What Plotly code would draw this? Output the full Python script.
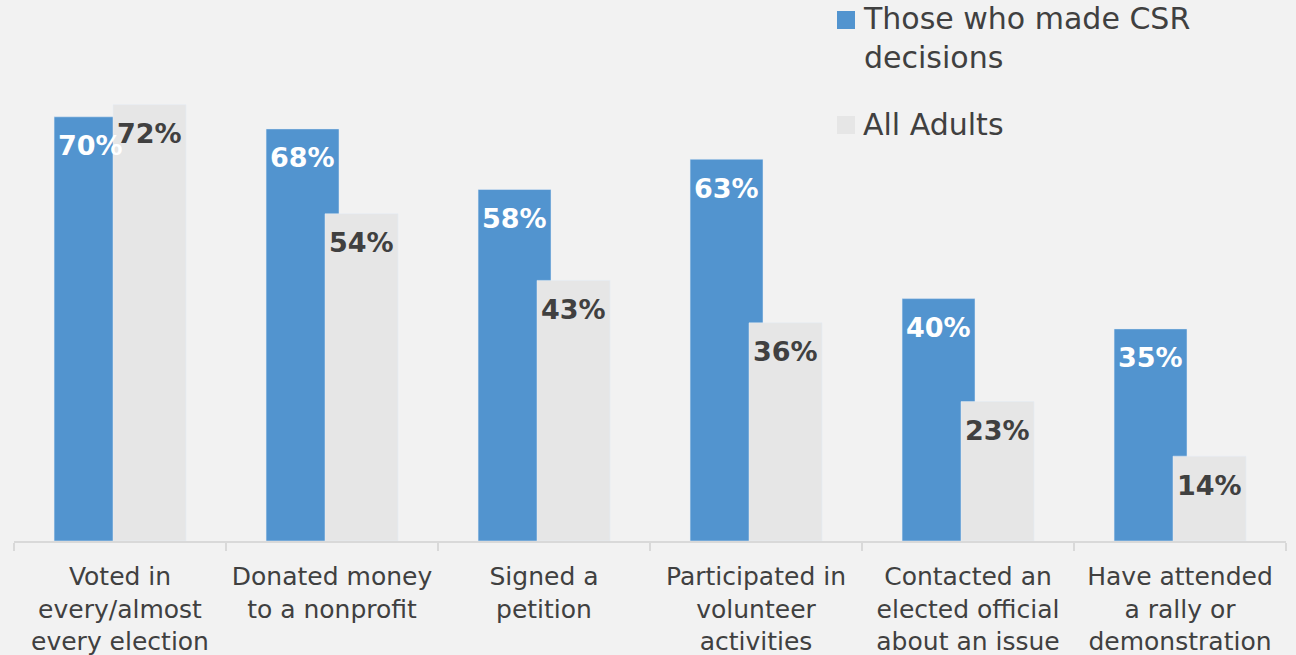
import plotly.graph_objects as go

categories = [
    "Voted in<br>every/almost<br>every election",
    "Donated money<br>to a nonprofit",
    "Signed a<br>petition",
    "Participated in<br>volunteer<br>activities",
    "Contacted an<br>elected official<br>about an issue",
    "Have attended<br>a rally or<br>demonstration",
]
csr_values = [70, 68, 58, 63, 40, 35]
adult_values = [72, 54, 43, 36, 23, 14]
series_names = ["Those who made CSR<br>decisions", "All Adults"]

BLUE = "#5294CF"
GRAY = "#E6E6E6"
BG = "#F2F2F2"
DARK = "#404040"

# page geometry
W, H = 1296, 655
M_L, M_R, M_T, M_B = 14, 10, 5, 114
plot_w = W - M_L - M_R
plot_h = H - M_T - M_B
cat_px = plot_w / len(categories)


def px_x(px):
    return (px - M_L) / plot_w


def px_y(py):
    return (H - M_B - py) / plot_h


# bar geometry in category units (bars overlap slightly)
bar_w = 0.344
blue_off = -0.311
gray_off = -0.033

fig = go.Figure()

fig.add_trace(go.Bar(
    x=categories, y=csr_values, name=series_names[0],
    marker_color=BLUE, width=bar_w, offset=blue_off,
    showlegend=False, hoverinfo="skip",
))
fig.add_trace(go.Bar(
    x=categories, y=adult_values, name=series_names[1],
    marker_color=GRAY, width=bar_w, offset=gray_off,
    showlegend=False, hoverinfo="skip",
))

# value labels drawn on top of everything
label_font = dict(family="DejaVu Sans", size=27, color=DARK)
for cat, v in zip(categories, csr_values):
    fig.add_annotation(
        x=cat, y=v, xref="x", yref="y", text=f"<b>{v}%</b>", showarrow=False,
        xshift=(blue_off + bar_w / 2) * cat_px, yshift=-29,
        font=dict(label_font, color="white"),
    )
for cat, v in zip(categories, adult_values):
    fig.add_annotation(
        x=cat, y=v, xref="x", yref="y", text=f"<b>{v}%</b>", showarrow=False,
        xshift=(gray_off + bar_w / 2) * cat_px, yshift=-29,
        font=label_font,
    )

# hand-made legend in the top right corner
legend_items = [(series_names[0], BLUE, 20, 38), (series_names[1], GRAY, 125, 125)]
for name, color, sq_y, txt_y in legend_items:
    fig.add_shape(
        type="rect", xref="paper", yref="paper",
        x0=px_x(837), x1=px_x(855), y0=px_y(sq_y + 9), y1=px_y(sq_y - 9),
        fillcolor=color, line_width=0,
    )
    fig.add_annotation(
        x=px_x(861), y=px_y(txt_y), xref="paper", yref="paper",
        xanchor="left", yanchor="middle", align="left", showarrow=False,
        text=name, font=dict(family="DejaVu Sans", size=30, color=DARK),
    )

px_per_unit = 6.06
y_max = plot_h / px_per_unit

fig.update_layout(
    width=W, height=H,
    barmode="overlay",
    paper_bgcolor=BG, plot_bgcolor=BG,
    margin=dict(l=M_L, r=M_R, t=M_T, b=M_B, autoexpand=False),
    font=dict(family="DejaVu Sans", color=DARK),
    showlegend=False,
)
fig.update_xaxes(
    type="category", range=[-0.5, len(categories) - 0.5],
    showline=True, linecolor="#D9D9D9", linewidth=2,
    ticks="outside", tickson="boundaries", ticklen=8, tickwidth=2, tickcolor="#D9D9D9",
    tickangle=0, showgrid=False, ticklabelstandoff=12, automargin=False,
    tickfont=dict(family="DejaVu Sans", size=25, color=DARK),
)
fig.update_yaxes(visible=False, range=[0, y_max], showgrid=False)

fig.write_html(
    "out.html",
    config={"displayModeBar": False},
    post_script="document.body.style.margin='0';",
)
